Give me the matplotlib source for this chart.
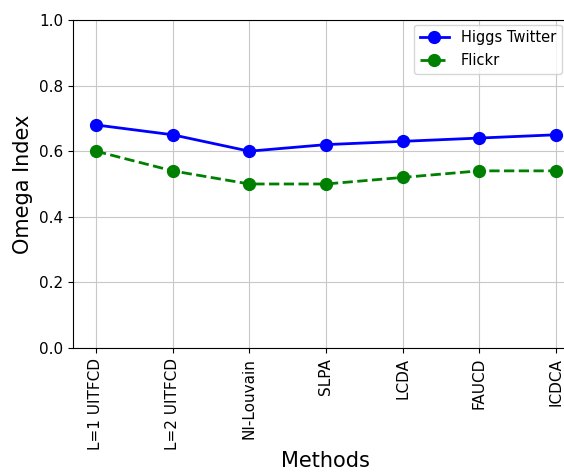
import matplotlib
matplotlib.use('Agg')
import matplotlib.pyplot as plt

methods = ['L=1 UITFCD', 'L=2 UITFCD', 'NI-Louvain', 'SLPA', 'LCDA', 'FAUCD', 'ICDCA']
higgs = [0.68, 0.65, 0.60, 0.62, 0.63, 0.64, 0.65]
flickr = [0.60, 0.54, 0.50, 0.50, 0.52, 0.54, 0.54]

fig = plt.figure(figsize=(5.64, 4.72), dpi=100)
ax = fig.add_axes([0.1294, 0.2627, 0.897, 0.695])

ax.plot(methods, higgs, 'o-', color='b', lw=2, ms=8.5, label='Higgs Twitter')
ax.plot(methods, flickr, 'o--', color='g', lw=2, ms=8.5, label='Flickr')

ax.set_ylim(0, 1.0)
ax.set_xlabel('Methods', fontsize=15, labelpad=1)
ax.set_ylabel('Omega Index', fontsize=15)
ax.tick_params(axis='both', labelsize=11)
plt.setp(ax.get_xticklabels(), rotation=90)
ax.grid(True, color='#c8c8c8')
ax.legend(loc='upper right', fontsize=10.5, bbox_to_anchor=(0.996, 0.948),
          bbox_transform=fig.transFigure, borderaxespad=0)

fig.savefig('out.png', dpi=100)
